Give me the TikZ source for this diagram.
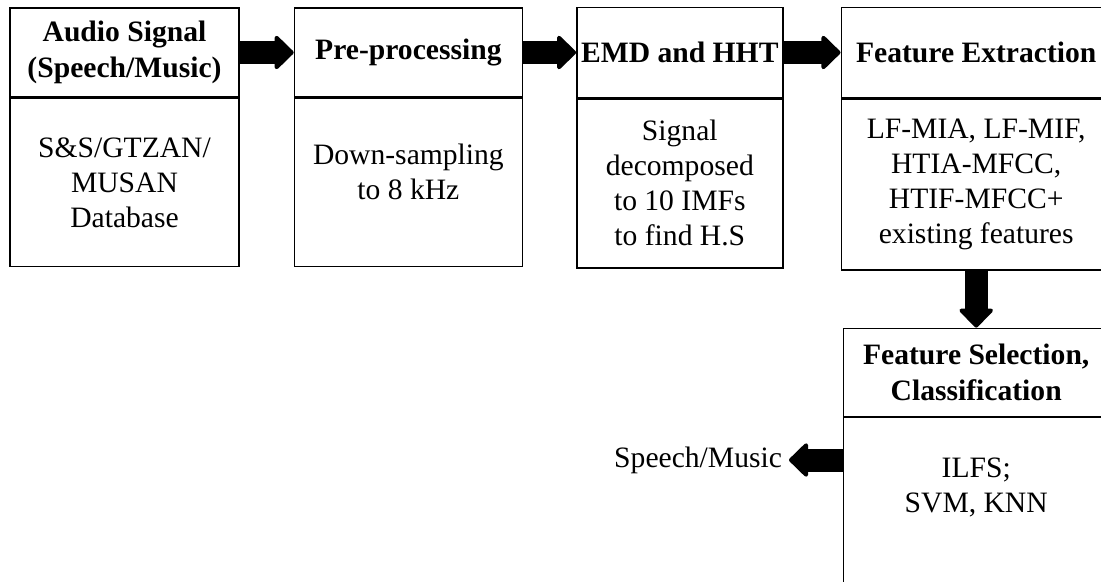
\documentclass[tikz,border=0pt]{standalone}
\usepackage{fontspec}
\setmainfont{Liberation Serif}
\usetikzlibrary{arrows.meta,positioning}

\begin{document}
\begin{tikzpicture}[
    x=0.5pt, y=-0.5pt,
    node distance=28pt,
    hd/.style={rectangle, draw=black, line width=0.7pt, align=center, inner sep=2pt, minimum height=44.5pt, font=\fontsize{14.8}{18}\selectfont\bfseries},
    bd/.style={rectangle, draw=black, line width=0.7pt, align=center, inner sep=2pt, minimum height=84pt, font=\fontsize{14.8}{17.5}\selectfont},
    arr/.style={-{Triangle[length=10pt, width=19pt, line width=2pt, round]}, line width=11.5pt, draw=black}
]
    \useasboundingbox (0,0) rectangle (1101,582);
    \clip (0,0) rectangle (1101,582);

    \node [hd, minimum width=114.5pt] (h1) at (124.5,52.5) {Audio Signal\\(Speech/Music)};
    \node [bd, minimum width=114.5pt, below=0pt of h1] (b1) {S\&S/GTZAN/\\MUSAN\\Database};

    \node [hd, minimum width=114pt, right=27pt of h1] (h2) {Pre-processing};
    \node [bd, minimum width=114pt, below=0pt of h2] (b2) {Down-sampling\\to 8 kHz\\[-6.5pt]};

    \node [hd, minimum width=103pt, minimum height=45pt, right=26.5pt of h2] (h3) {EMD and HHT};
    \node [bd, minimum width=103pt, minimum height=84.5pt, below=0pt of h3] (b3) {Signal\\decomposed\\to 10 IMFs\\to find H.S};

    \node [hd, minimum width=135pt, minimum height=45pt, right=28.5pt of h3] (h4) {Feature Extraction};
    \node [bd, minimum width=135pt, minimum height=85.5pt, below=0pt of h4] (b4) {LF-MIA, LF-MIF,\\HTIA-MFCC,\\HTIF-MFCC+\\existing features};

    \node [hd, minimum width=133pt, minimum height=44pt, below=28.5pt of b4] (h5) {Feature Selection,\\Classification};
    \node [bd, minimum width=133pt, minimum height=103pt, below=0pt of h5] (b5) {};
    \node [align=center, font=\fontsize{14.8}{17.5}\selectfont, below=17pt of b5.north] (t5) {ILFS;\\SVM, KNN};

    \node [anchor=east, font=\fontsize{14.8}{17.5}\selectfont] (out) at (789,460) {Speech/Music};

    \draw [arr] (h1.east) -- (h2.west);
    \draw [arr] (h2.east) -- (h3.west);
    \draw [arr] (h3.east) -- (h4.west);
    \draw [arr] (b4.south) -- (h5.north);
    \draw [arr] (b5.west |- out) -- (out.east);
\end{tikzpicture}
\end{document}
